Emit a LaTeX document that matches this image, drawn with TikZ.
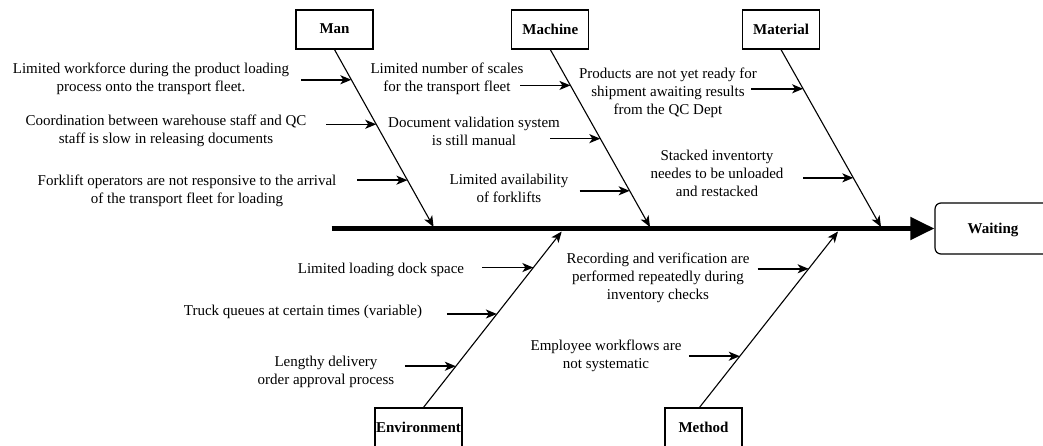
\documentclass[tikz,border=0pt]{standalone}
\usepackage{fontspec}
\setmainfont{Liberation Serif}
\usetikzlibrary{arrows.meta, positioning, calc}

\begin{document}
\begin{tikzpicture}[
    x=1pt, y=-1pt,
    category/.style={rectangle, draw, line width=1.2pt, minimum width=77pt, minimum height=39pt, align=center, inner sep=0pt, text depth=1pt, font=\fontsize{15}{18}\selectfont\bfseries},
    effect/.style={category, rounded corners=6pt, minimum width=116pt, minimum height=51pt},
    cause/.style={align=center, inner sep=0pt, yshift=-2pt, font=\fontsize{15}{18}\selectfont},
    bone/.style={-{Stealth[length=11pt, width=9pt, inset=3pt]}, line width=1.1pt},
    causearrow/.style={-{Stealth[length=11pt, width=9pt, inset=3pt]}, line width=1.5pt},
    spine/.style={-{Triangle[length=24pt, width=22pt]}, line width=5pt}
]
\useasboundingbox (0,0) rectangle (1043,446);

% Category boxes
\node[category] (man) at (334.5,29.5) {Man};
\node[category] (machine) at (550.3,29.5) {Machine};
\node[category] (material) at (781,29.5) {Material};
\node[category, minimum width=87pt] (env) at (418.5,427.5) {Environment};
\node[category] (method) at (703.5,427.5) {Method};

% Effect
\node[effect] (waiting) at (993,228.5) {Waiting};

% Main spine
\coordinate (tail) at (331.7,228.5);
\draw[spine] (tail) -- (waiting.west);

% Bones
\coordinate (mantip) at (433.6,227);
\coordinate (machinetip) at (650,227);
\coordinate (materialtip) at (881,227);
\coordinate (envtip) at (561.7,231.5);
\coordinate (methodtip) at (838,231.5);
\coordinate (envroot) at ([xshift=5pt]env.north);
\coordinate (methodroot) at ([xshift=-4pt]method.north);

\draw[bone] (man.south) -- (mantip)
    coordinate[pos=0.170] (m1) coordinate[pos=0.421] (m2) coordinate[pos=0.736] (m3);
\draw[bone] (machine.south) -- (machinetip)
    coordinate[pos=0.202] (k1) coordinate[pos=0.502] (k2) coordinate[pos=0.796] (k3);
\draw[bone] (material.south) -- (materialtip)
    coordinate[pos=0.221] (t1) coordinate[pos=0.723] (t2);
\draw[bone] (envroot) -- (envtip)
    coordinate[pos=0.795] (e1) coordinate[pos=0.531] (e2) coordinate[pos=0.234] (e3);
\draw[bone] (methodroot) -- (methodtip)
    coordinate[pos=0.788] (w1) coordinate[pos=0.291] (w2);

% Man causes
\node[cause] (c1) at (151,77) {Limited workforce during the product loading\\process onto the transport fleet.};
\node[cause] (c2) at (166,129) {Coordination between warehouse staff and QC\\staff is slow in releasing documents};
\node[cause] (c3) at (187,189) {Forklift operators are not responsive to the arrival\\of the transport fleet for loading};
\draw[causearrow] ($(m1)+(-50,0)$) -- (m1);
\draw[causearrow] ($(m2)+(-50,0)$) -- (m2);
\draw[causearrow] ($(m3)+(-50,0)$) -- (m3);

% Machine causes
\node[cause] (d1) at (447,77) {Limited number of scales\\for the transport fleet};
\node[cause] (d2) at (474,129) {Document validation system\\is still manual};
\node[cause] (d3) at (509,186) {Limited availability\\of forklifts};
\draw[causearrow] ($(k1)+(-50,0)$) -- (k1);
\draw[causearrow] ($(k2)+(-50,0)$) -- (k2);
\draw[causearrow] ($(k3)+(-50,0)$) -- (k3);

% Material causes
\node[cause] (p1) at (668,91) {Products are not yet ready for\\shipment awaiting results\\from the QC Dept};
\node[cause] (p2) at (717,171) {Stacked inventorty\\needes to be unloaded\\and restacked};
\draw[causearrow] ($(t1)+(-52,0)$) -- (t1);
\draw[causearrow] ($(t2)+(-50,0)$) -- (t2);

% Environment causes
\node[cause] (f1) at (381,268) {Limited loading dock space};
\node[cause] (f2) at (303,310) {Truck queues at certain times (variable)};
\node[cause] (f3) at (326,370) {Lengthy delivery\\order approval process};
\draw[causearrow] ($(e1)+(-51,0)$) -- (e1);
\draw[causearrow] ($(e2)+(-50,0)$) -- (e2);
\draw[causearrow] ($(e3)+(-51,0)$) -- (e3);

% Method causes
\node[cause] (g1) at (658,276) {Recording and verification are\\performed repeatedly during\\inventory checks};
\node[cause] (g2) at (606,354) {Employee workflows are\\not systematic};
\draw[causearrow] ($(w1)+(-51,0)$) -- (w1);
\draw[causearrow] ($(w2)+(-51,0)$) -- (w2);

\end{tikzpicture}
\end{document}
